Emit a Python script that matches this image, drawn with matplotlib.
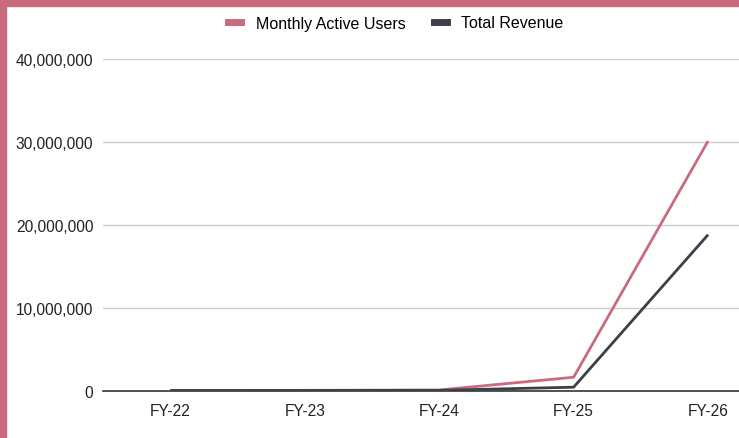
import matplotlib.pyplot as plt
import matplotlib.patches as patches
from matplotlib.lines import Line2D
from matplotlib.ticker import FuncFormatter

years = ["FY-22", "FY-23", "FY-24", "FY-25", "FY-26"]
monthly_active_users = [5000, 20000, 60000, 1600000, 30100000]
total_revenue = [1000, 5000, 20000, 400000, 18800000]

pink = "#C96B7C"
dark = "#3D4049"

plt.rcParams["font.family"] = ["Liberation Sans", "DejaVu Sans"]

fig = plt.figure(figsize=(7.39, 4.39), dpi=100)
ax = fig.add_axes([103 / 739, 1 - 391.5 / 439, 1 - 103 / 739, (391.5 - 60) / 439])

x = list(range(len(years)))
ax.plot(x, monthly_active_users, color=pink, lw=2, solid_capstyle="butt", zorder=3)
ax.plot(x, total_revenue, color=dark, lw=2, solid_capstyle="butt", zorder=4)

ax.set_xlim(-0.5, 4.23)
ax.set_ylim(0, 40000000)
ax.set_yticks([0, 10000000, 20000000, 30000000, 40000000])
ax.yaxis.set_major_formatter(FuncFormatter(lambda v, p: f"{int(v):,}"))
ax.set_xticks(x)
ax.set_xticklabels(years)
ax.tick_params(axis="both", length=0, labelsize=11.2, colors="#222222")
ax.tick_params(axis="y", pad=7)
ax.tick_params(axis="x", pad=9)
ax.grid(axis="y", color="#CCCCCC", lw=1)
ax.set_axisbelow(True)
for s in ["top", "right", "left"]:
    ax.spines[s].set_visible(False)
ax.spines["bottom"].set_color("#333333")
ax.spines["bottom"].set_linewidth(1.2)
ax.spines["bottom"].set_zorder(2)

handles = [Line2D([], [], color=pink, lw=5), Line2D([], [], color=dark, lw=5)]
fig.legend(handles, ["Monthly Active Users", "Total Revenue"], loc="center",
           bbox_to_anchor=(396 / 739, 1 - 24 / 439), ncol=2, frameon=False,
           fontsize=11.5, handlelength=0.8, handletextpad=0.9, columnspacing=1.8)

# pink frame on left and top edges
fig.patches.append(patches.Rectangle((0, 0), 6 / 739, 1, transform=fig.transFigure,
                                     color=pink, zorder=10))
fig.patches.append(patches.Rectangle((0, 1 - 7 / 439), 1, 7 / 439, transform=fig.transFigure,
                                     color=pink, zorder=10))

fig.savefig("out.png", dpi=100)
